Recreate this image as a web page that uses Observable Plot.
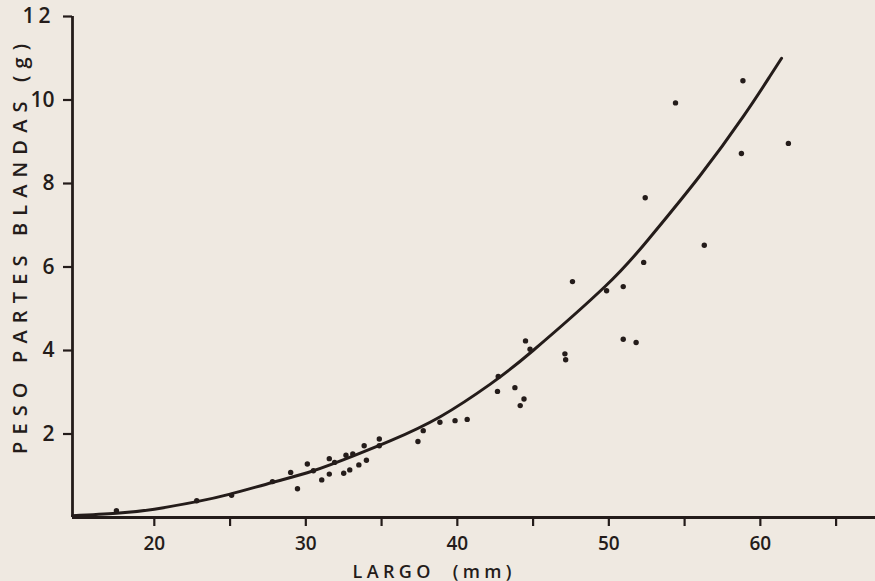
<!DOCTYPE html>
<html>
<head>
<meta charset="utf-8">
<script src="https://cdn.jsdelivr.net/npm/d3@7"></script>
<script src="https://cdn.jsdelivr.net/npm/@observablehq/plot@0.6"></script>
<style>
  html, body { margin: 0; padding: 0; background: #efe9e1; }
  #chart { width: 875px; height: 581px; }
</style>
</head>
<body>
<div id="chart"></div>
<script>
// Observed points: LARGO (mm) vs PESO PARTES BLANDAS (g)
const largo = [17.5, 22.8, 25.1, 27.8, 29.0, 29.45, 30.1, 30.5, 31.05, 31.55, 31.55, 31.9, 32.5, 32.65, 32.9, 33.1, 33.5, 33.85, 34.0, 34.85, 34.85,
  37.4, 37.75, 38.85, 39.85, 40.65, 42.7, 42.65, 43.8, 44.4, 44.15, 44.5, 44.8, 47.1, 47.15, 47.6,
  49.85, 50.95, 50.95, 51.8, 52.3, 52.4, 54.4, 56.3, 58.75, 58.85, 61.85];
const peso = [0.16, 0.40, 0.53, 0.86, 1.08, 0.69, 1.28, 1.12, 0.90, 1.41, 1.04, 1.32, 1.06, 1.49, 1.14, 1.52, 1.26, 1.72, 1.37, 1.88, 1.72,
  1.82, 2.08, 2.28, 2.32, 2.35, 3.38, 3.02, 3.11, 2.84, 2.68, 4.23, 4.03, 3.92, 3.78, 5.65,
  5.43, 5.53, 4.27, 4.19, 6.11, 7.66, 9.93, 6.52, 8.72, 10.46, 8.96];

// Fitted regression curve
const curveLargo = [14.6, 17.5, 20, 22.8, 25, 27.8, 30.5, 33.1, 35.6, 38.9, 42.2, 45, 49.8, 52.7, 56, 58.9, 60.6, 61.4];
const curvePeso  = [0.04, 0.10, 0.20, 0.38, 0.56, 0.84, 1.12, 1.47, 1.84, 2.42, 3.20, 4.00, 5.55, 6.70, 8.18, 9.62, 10.55, 11.0];

const xTicks = [20, 25, 30, 35, 40, 45, 50, 55, 60, 65];
const xLabels = [20, 30, 40, 50, 60];
const yTicks = [2, 4, 6, 8, 10, 12];

const xTitle = "LARGO  (mm)";
const yTitle = "PESO PARTES BLANDAS (g)";

const points = largo.map((l, i) => ({largo: l, peso: peso[i]}));
const curve = curveLargo.map((l, i) => ({largo: l, peso: curvePeso[i]}));

const ink = "#241c1a";
const paper = "#efe9e1";
const font = "'Open Sans', 'DejaVu Sans', sans-serif";

const chart = Plot.plot({
  width: 875,
  height: 581,
  marginLeft: 72,
  marginRight: 0,
  marginTop: 16,
  marginBottom: 64,
  x: {domain: [14.6, 67.6]},
  y: {domain: [0, 12]},
  style: {background: paper, color: ink, fontFamily: font},
  marks: [
    Plot.axisX(xTicks, {tickSize: 9, tickPadding: 10, strokeWidth: 2.2, fontSize: 19, fontWeight: 600,
      tickFormat: d => xLabels.includes(d) ? String(d) : "", label: null}),
    Plot.axisY(yTicks, {tickSize: 9, tickPadding: 9, strokeWidth: 2.2, fontSize: 21, fontWeight: 600, label: null}),
    Plot.ruleY([0], {stroke: ink, strokeWidth: 2.8}),
    Plot.ruleX([14.6], {y1: 0, y2: 12, stroke: ink, strokeWidth: 2.8}),
    Plot.line(curve, {x: "largo", y: "peso", curve: "natural", stroke: ink, strokeWidth: 3}),
    Plot.dot(points, {x: "largo", y: "peso", r: 2.7, fill: ink, stroke: "none"}),
    Plot.text([xTitle], {frameAnchor: "bottom", dx: -42, dy: 60, fontSize: 18, fontWeight: 600, textAnchor: "middle", lineAnchor: "bottom", fill: ink}),
    Plot.text([yTitle], {frameAnchor: "left", rotate: -90, dx: -52, dy: -18, fontSize: 20, fontWeight: 600, textAnchor: "middle", lineAnchor: "middle", fill: ink})
  ]
});

document.getElementById("chart").appendChild(chart);

const svg = d3.select(chart);
svg.selectAll("text").filter(function() { return this.textContent === xTitle; })
  .attr("textLength", 159).attr("lengthAdjust", "spacing");
svg.selectAll("text").filter(function() { return this.textContent === yTitle; })
  .attr("textLength", 410).attr("lengthAdjust", "spacing");
svg.selectAll("text").filter(function() { return this.textContent === "12"; })
  .attr("letter-spacing", 4);
</script>
</body>
</html>
